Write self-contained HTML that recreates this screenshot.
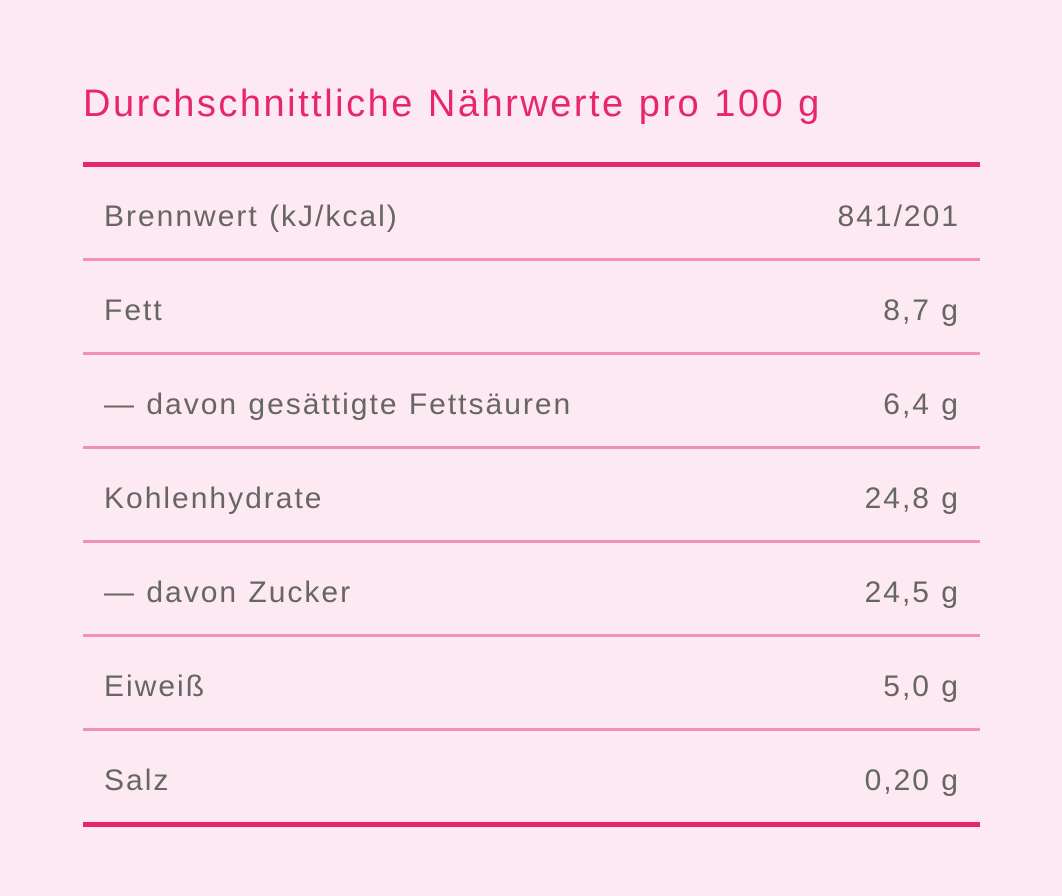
<!DOCTYPE html>
<html><head><meta charset="utf-8"><style>
body{margin:0;width:1062px;height:896px;background:#fde9f1;position:relative;overflow:hidden;font-family:"Liberation Sans",sans-serif}
.t{position:absolute;left:83px;top:85px;font-size:38px;color:#e8266f;white-space:nowrap;line-height:1;letter-spacing:2.5px}
.l{position:absolute;left:83px;width:897px}
.thick{height:5px;background:#e8266f}
.thin{height:3px;background:#f291b5}
.r{position:absolute;font-size:30px;color:#666;white-space:nowrap;line-height:1;letter-spacing:2px}
.a{left:104px}.b{right:102px;text-align:right}
</style></head><body>
<div class="t">Durchschnittliche Nährwerte pro 100 g</div>
<div class="l thick" style="top:162px"></div>
<div class="l thin" style="top:258px"></div>
<div class="l thin" style="top:352px"></div>
<div class="l thin" style="top:446px"></div>
<div class="l thin" style="top:540px"></div>
<div class="l thin" style="top:634px"></div>
<div class="l thin" style="top:728px"></div>
<div class="l thick" style="top:822px"></div>
<div class="r a" style="top:202px">Brennwert (kJ/kcal)</div><div class="r b" style="top:202px">841/201</div>
<div class="r a" style="top:296px">Fett</div><div class="r b" style="top:296px">8,7 g</div>
<div class="r a" style="top:390px">— davon gesättigte Fettsäuren</div><div class="r b" style="top:390px">6,4 g</div>
<div class="r a" style="top:484px">Kohlenhydrate</div><div class="r b" style="top:484px">24,8 g</div>
<div class="r a" style="top:578px">— davon Zucker</div><div class="r b" style="top:578px">24,5 g</div>
<div class="r a" style="top:672px">Eiweiß</div><div class="r b" style="top:672px">5,0 g</div>
<div class="r a" style="top:766px">Salz</div><div class="r b" style="top:766px">0,20 g</div>
</body></html>
